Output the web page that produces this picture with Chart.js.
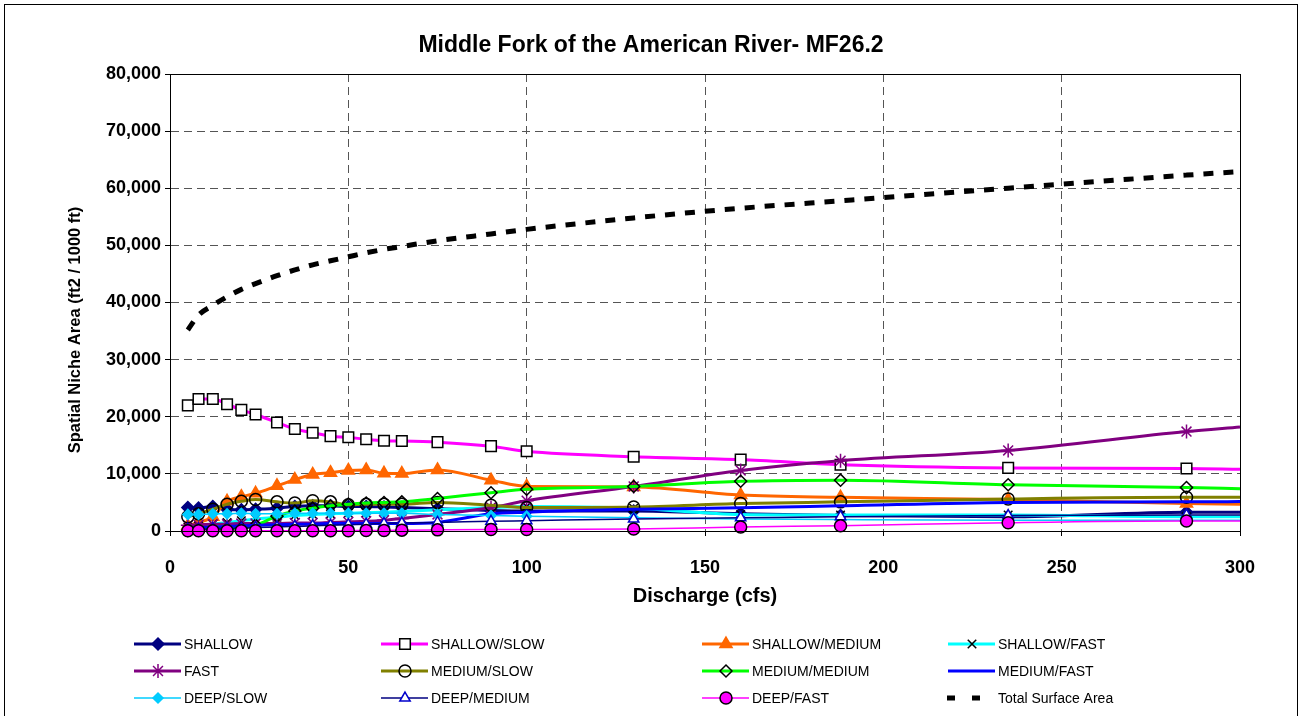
<!DOCTYPE html>
<html>
<head>
<meta charset="utf-8">
<script src="https://cdn.jsdelivr.net/npm/chart.js"></script>
<style>
body { margin: 0; background: #fff; }
</style>
</head>
<body>
<canvas id="niche" width="1302" height="716"></canvas>
<script>
Chart.defaults.font.family = '"Liberation Sans", Arial, sans-serif';
Chart.defaults.color = '#000';

// discharge (cfs); last value is the right edge of the plot where the lines leave it
var discharge = [5, 8, 12, 16, 20, 24, 30, 35, 40, 45, 50, 55, 60, 65, 75, 90, 100, 130, 160, 188, 235, 285, 300];

var shallow       = [4100, 4000, 4300, 3800, 3700, 3800, 4000, 4300, 4400, 4400, 4300, 4300, 4200, 4100, 3900, 3600, 3500, 3500, 3000, 2700, 2500, 3300, 3300];
var shallowSlow   = [22000, 23100, 23100, 22200, 21200, 20400, 19000, 17850, 17200, 16600, 16400, 16050, 15800, 15750, 15550, 14850, 13950, 13000, 12500, 11600, 11050, 10950, 10800];
var shallowMedium = [900, 1500, 2500, 5200, 6000, 6600, 7900, 9000, 9900, 10200, 10600, 10700, 10100, 10050, 10700, 8900, 7800, 7700, 6300, 5900, 5500, 4800, 4700];
var shallowFast   = [700, 900, 1200, 1500, 1800, 2100, 2400, 2700, 2900, 3000, 3100, 3200, 3300, 3400, 3700, 4100, 4300, 4000, 2900, 2800, 2800, 2500, 2500];
var fast          = [1000, 1100, 1200, 1200, 1300, 1300, 1300, 1400, 1400, 1500, 1600, 1700, 1900, 2200, 2900, 4100, 5300, 7800, 10600, 12300, 14100, 17400, 18200];
var mediumSlow    = [2500, 3000, 3800, 4700, 5200, 5500, 5100, 4900, 5300, 5100, 4600, 4700, 4700, 4700, 5000, 4500, 4100, 4200, 4800, 5100, 5600, 5900, 5900];
var mediumMedium  = [100, 150, 200, 300, 500, 1000, 2600, 3500, 4000, 4400, 4700, 4900, 5000, 5100, 5700, 6700, 7300, 7800, 8700, 8900, 8100, 7600, 7400];
var mediumFast    = [600, 600, 700, 800, 900, 1000, 1100, 1200, 1200, 1300, 1300, 1300, 1300, 1300, 1500, 3000, 3300, 3800, 4050, 4400, 5000, 5100, 5150];
var deepSlow      = [2900, 2900, 3000, 3000, 3100, 3000, 3000, 3100, 3100, 3100, 3100, 3100, 3100, 3100, 2900, 2700, 2600, 2300, 2100, 2000, 1900, 1900, 1900];
var deepMedium    = [300, 300, 400, 500, 500, 600, 700, 800, 900, 1000, 1100, 1200, 1300, 1400, 1500, 1700, 1800, 2100, 2300, 2500, 2700, 2800, 2800];
var deepFast      = [50, 50, 50, 50, 50, 50, 50, 50, 50, 50, 50, 100, 100, 150, 200, 250, 250, 350, 700, 930, 1450, 1750, 1750];
var totalArea     = [35200, 37800, 39500, 41000, 42300, 43300, 44700, 45700, 46600, 47300, 48000, 48700, 49300, 49800, 50800, 52000, 52800, 54800, 56500, 57800, 60000, 62300, 62900];

var xTicks = [0, 50, 100, 150, 200, 250, 300];
var yTicks = [0, 10000, 20000, 30000, 40000, 50000, 60000, 70000, 80000];

function pts(vals) {
    return discharge.map(function (d, i) { return { x: d, y: vals[i] }; });
}

var count = 0;
function series(label, vals, color, width, style, radius, fill, stroke) {
    count++;
    return {
        label: label,
        data: pts(vals),
        borderColor: color,
        backgroundColor: fill,
        borderWidth: width,
        pointStyle: style,
        markerRadius: radius,
        pointRadius: function (c) { return (c.raw && c.raw.x >= 300) ? 0 : radius; },
        pointHoverRadius: function (c) { return (c.raw && c.raw.x >= 300) ? 0 : radius; },
        pointBackgroundColor: fill,
        pointBorderColor: stroke,
        pointBorderWidth: 1.5,
        cubicInterpolationMode: 'monotone',
        clip: false,
        order: 30 - count,
    };
}

var datasets = [
    series('SHALLOW', shallow, '#000080', 3, 'rectRot', 6, '#000080', '#000080'),
    series('SHALLOW/SLOW', shallowSlow, '#FF00FF', 3, 'rect', 7.5, '#FFFFFF', '#000000'),
    series('SHALLOW/MEDIUM', shallowMedium, '#FF6600', 3, 'triangle', 7, '#FF6600', '#FF6600'),
    series('SHALLOW/FAST', shallowFast, '#00FFFF', 3, 'crossRot', 6, '#000000', '#000000'),
    series('FAST', fast, '#800080', 3, 'star', 7, '#800080', '#800080'),
    series('MEDIUM/SLOW', mediumSlow, '#808000', 3, 'circle', 6, 'rgba(0,0,0,0)', '#000000'),
    series('MEDIUM/MEDIUM', mediumMedium, '#00FF00', 3, 'rectRot', 6, 'rgba(0,0,0,0)', '#000000'),
    series('MEDIUM/FAST', mediumFast, '#0000FF', 3, 'circle', 0, '#0000FF', '#0000FF'),
    series('DEEP/SLOW', deepSlow, '#00CCFF', 1.5, 'rectRot', 5, '#00CCFF', '#00CCFF'),
    series('DEEP/MEDIUM', deepMedium, '#000080', 1.5, 'triangle', 6, '#FFFFFF', '#0000CC'),
    series('DEEP/FAST', deepFast, '#FF00FF', 1.5, 'circle', 6, '#FF00FF', '#000000'),
    series('Total Surface Area', totalArea, '#000000', 5, 'circle', 0, '#000000', '#000000'),
];
datasets[11].borderDash = [10, 10];
datasets[11].borderCapStyle = 'butt';

var legendCols = [134, 381, 702, 948];
var legendRows = [644, 671, 698];

var niceLegend = {
    id: 'niceLegend',
    afterDraw: function (chart) {
        var ctx = chart.ctx;
        chart.data.datasets.forEach(function (ds, i) {
            var x0 = legendCols[i % 4];
            var y = legendRows[Math.floor(i / 4)];
            ctx.save();
            ctx.strokeStyle = ds.borderColor;
            ctx.lineWidth = ds.borderWidth;
            ctx.lineCap = 'butt';
            ctx.beginPath();
            if (ds.borderDash) {
                ctx.setLineDash([8, 17]);
                ctx.moveTo(x0 - 1, y);
                ctx.lineTo(x0 + 33, y);
            } else {
                ctx.moveTo(x0, y);
                ctx.lineTo(x0 + 47, y);
            }
            ctx.stroke();
            ctx.setLineDash([]);
            if (ds.markerRadius > 0) {
                ctx.fillStyle = ds.pointBackgroundColor;
                ctx.strokeStyle = ds.pointBorderColor;
                ctx.lineWidth = 1.5;
                Chart.helpers.drawPoint(ctx, {
                    pointStyle: ds.pointStyle,
                    rotation: 0,
                    radius: ds.markerRadius,
                    borderWidth: 1.5,
                }, x0 + 24, y);
            }
            ctx.fillStyle = '#000';
            ctx.font = '14px "Liberation Sans", Arial, sans-serif';
            ctx.textBaseline = 'middle';
            ctx.textAlign = 'left';
            ctx.fillText(ds.label, x0 + 50, y + 1);
            ctx.restore();
        });
    }
};

// y axis title sits a bit lower than the plot centre in the original
var yTitle = {
    id: 'yTitle',
    afterDraw: function (chart) {
        var ctx = chart.ctx;
        ctx.save();
        ctx.translate(75, 330);
        ctx.rotate(-Math.PI / 2);
        ctx.fillStyle = '#000';
        ctx.font = 'bold 16.5px "Liberation Sans", Arial, sans-serif';
        ctx.textAlign = 'center';
        ctx.textBaseline = 'middle';
        ctx.fillText('Spatial Niche Area (ft2 / 1000 ft)', 0, 0);
        ctx.restore();
    }
};

var frame = {
    id: 'frame',
    beforeDraw: function (chart) {
        var ctx = chart.ctx;
        ctx.save();
        ctx.fillStyle = '#fff';
        ctx.fillRect(0, 0, chart.width, chart.height);
        ctx.restore();
    },
    afterDraw: function (chart) {
        var ctx = chart.ctx, a = chart.chartArea;
        ctx.save();
        ctx.strokeStyle = '#000';
        ctx.lineWidth = 1;
        ctx.strokeRect(Math.round(a.left) + 0.5, Math.round(a.top) + 0.5, Math.round(a.right - a.left), Math.round(a.bottom - a.top));
        ctx.strokeRect(4.5, 4.5, 1293, 740);
        ctx.restore();
    }
};

var ctx = document.getElementById('niche');
var myChart = new Chart(ctx, {
    type: 'line',
    plugins: [frame, niceLegend, yTitle],
    data: { datasets: datasets },
    options: {
        responsive: false,
        animation: false,
        layout: { padding: { top: 0, left: 0, right: 0, bottom: 105 } },
        plugins: {
            legend: { display: false },
            tooltip: { enabled: false },
            title: {
                display: true,
                text: 'Middle Fork of the American River- MF26.2',
                font: { size: 23, weight: 'bold' },
                padding: { top: 32, bottom: 14.4 },
            },
        },
        scales: {
            x: {
                type: 'linear',
                min: 0,
                max: 300,
                afterBuildTicks: function (s) { s.ticks = xTicks.map(function (v) { return { value: v }; }); },
                afterFit: function (s) { s.height = 80; },
                ticks: { font: { size: 18, weight: 'bold' }, padding: 21, maxRotation: 0 },
                grid: { color: '#555', tickLength: 5, tickColor: '#000' },
                border: { display: true, color: '#000', width: 1, dash: [8, 5] },
                title: {
                    display: true,
                    text: 'Discharge (cfs)',
                    font: { size: 20, weight: 'bold' },
                    padding: { top: 0, bottom: 3 },
                },
            },
            y: {
                type: 'linear',
                min: 0,
                max: 80000,
                afterBuildTicks: function (s) { s.ticks = yTicks.map(function (v) { return { value: v }; }); },
                afterFit: function (s) { s.width = 170; },
                ticks: {
                    font: { size: 18, weight: 'bold' },
                    padding: 4,
                    callback: function (v) { return v.toLocaleString('en-US'); },
                },
                grid: { color: '#555', tickLength: 5, tickColor: '#000' },
                border: { display: true, color: '#000', width: 1, dash: [8, 5] },
            },
            y2: {
                type: 'linear',
                position: 'right',
                display: true,
                min: 0,
                max: 80000,
                afterFit: function (s) { s.width = 62; },
                grid: { display: false },
                ticks: { display: false },
                border: { display: false },
            },
        },
    },
});
</script>
</body>
</html>
